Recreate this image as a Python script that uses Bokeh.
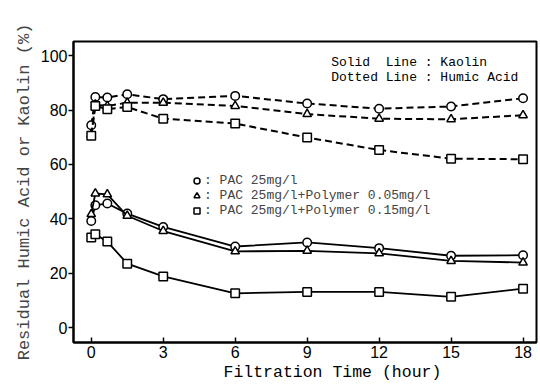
from bokeh.plotting import figure
from bokeh.models import Range1d, FixedTicker, Legend, LegendItem, Label, Title
from bokeh.embed import file_html
from bokeh.resources import INLINE

# Filtration time (hour)
time_h = [0, 0.17, 0.67, 1.5, 3, 6, 9, 12, 15, 18]

# Residual humic acid (%) - dotted lines
humic_pac = [74.4, 84.8, 84.6, 85.8, 84.0, 85.2, 82.4, 80.5, 81.3, 84.3]
humic_poly005 = [71.0, 82.0, 81.5, 82.7, 82.7, 81.5, 78.5, 76.8, 76.6, 78.1]
humic_poly015 = [70.5, 81.5, 80.3, 81.1, 76.8, 75.0, 69.9, 65.3, 62.1, 61.9]

# Residual kaolin (%) - solid lines
kaolin_pac = [39.2, 45.0, 45.6, 41.9, 37.0, 29.8, 31.3, 29.2, 26.4, 26.6]
kaolin_poly005 = [41.7, 49.3, 49.0, 41.1, 35.5, 28.0, 28.2, 27.3, 24.5, 23.9]
kaolin_poly015 = [33.1, 34.3, 31.6, 23.5, 18.8, 12.6, 13.1, 13.1, 11.3, 14.3]

series_labels = [": PAC 25mg/l",
                 ": PAC 25mg/l+Polymer 0.05mg/l",
                 ": PAC 25mg/l+Polymer 0.15mg/l"]
markers = ["circle", "triangle", "square"]
x_ticks = [0, 3, 6, 9, 12, 15, 18]
y_ticks = [0, 20, 40, 60, 80, 100]

MONO = "Liberation Mono"
SANS = "Liberation Sans"

p = figure(width=540, height=392, output_backend="svg", toolbar_location=None,
           x_range=Range1d(-0.74, 18.56), y_range=Range1d(-5.5, 105.2),
           min_border_left=73, min_border_right=4, min_border_top=41,
           min_border_bottom=50)
p.grid.visible = False
p.outline_line_color = "black"
p.outline_line_width = 2
p.background_fill_color = "white"
p.border_fill_color = "white"

for ax in (p.xaxis[0], p.yaxis[0]):
    ax.axis_line_width = 2
    ax.axis_line_color = "black"
    ax.major_tick_line_width = 1.5
    ax.minor_tick_line_color = None
    ax.major_label_text_font = SANS
    ax.major_label_text_font_size = "16px"
    ax.major_label_text_color = "black"

p.xaxis.ticker = FixedTicker(ticks=x_ticks)
p.xaxis.major_tick_in = 5
p.xaxis.major_tick_out = 0
p.xaxis.major_label_standoff = 3

p.yaxis.ticker = FixedTicker(ticks=y_ticks)
p.yaxis.major_tick_in = 0
p.yaxis.major_tick_out = 5
p.yaxis.major_label_standoff = 1
p.yaxis.axis_label = "Residual Humic Acid or Kaolin (%)"
p.yaxis.axis_label_text_font = MONO
p.yaxis.axis_label_text_font_size = "17px"
p.yaxis.axis_label_text_font_style = "normal"
p.yaxis.axis_label_standoff = 4

xt = Title(text="Filtration Time (hour)", align="left", offset=150,
           standoff=0, text_font=MONO, text_font_size="16.5px",
           text_font_style="normal", text_color="black")
p.add_layout(xt, "below")

humic = [humic_pac, humic_poly005, humic_poly015]
kaolin = [kaolin_pac, kaolin_poly005, kaolin_poly015]

legend_renderers = []
for vals, mk in zip(humic, markers):
    p.line(time_h, vals, line_color="black", line_width=2, line_dash="7 4")
    p.scatter(time_h, vals, marker=mk, size=8.5, fill_color="white",
              line_color="black", line_width=1.5)
for vals, mk in zip(kaolin, markers):
    p.line(time_h, vals, line_color="black", line_width=1.8)
    r = p.scatter(time_h, vals, marker=mk, size=8.5, fill_color="white",
                  line_color="black", line_width=1.5)
    legend_renderers.append(r)

legend = Legend(items=[LegendItem(label=lab, renderers=[r])
                       for lab, r in zip(series_labels, legend_renderers)],
                location=(116, 124), padding=0, margin=0, spacing=0,
                glyph_width=15, glyph_height=15, label_height=15,
                label_standoff=0, label_text_font=MONO,
                label_text_font_size="13px", border_line_color=None,
                background_fill_alpha=0)
p.add_layout(legend, "center")

p.add_layout(Label(x=10.0, y=97.4, text="Solid\u00a0 Line : Kaolin",
                   text_font=MONO, text_font_size="13px",
                   text_baseline="middle", text_color="black"))
p.add_layout(Label(x=10.0, y=91.9, text="Dotted Line : Humic Acid",
                   text_font=MONO, text_font_size="13px",
                   text_baseline="middle", text_color="black"))

open("out.html", "w").write(file_html(p, INLINE))
